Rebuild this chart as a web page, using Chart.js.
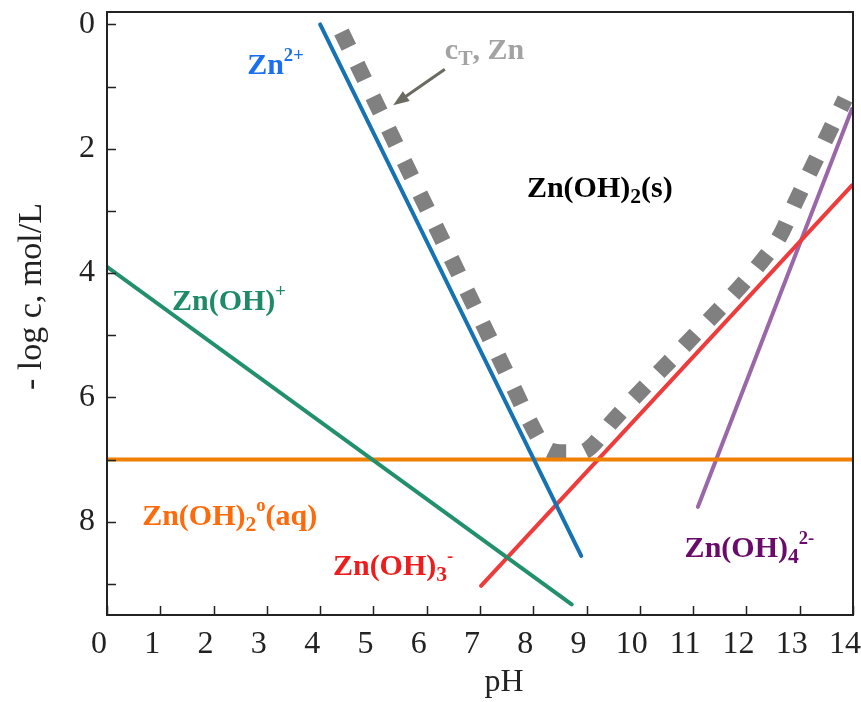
<!DOCTYPE html>
<html>
<head>
<meta charset="utf-8">
<script src="https://cdn.jsdelivr.net/npm/chart.js@4.4.1/dist/chart.umd.min.js"></script>
<style>
  html, body { margin: 0; background: #fff; }
</style>
</head>
<body>
<canvas id="diagram" width="861" height="702"></canvas>
<script>
// axis ticks
const pHTicks = [0, 1, 2, 3, 4, 5, 6, 7, 8, 9, 10, 11, 12, 13, 14];
const logCTicks = [0, 1, 2, 3, 4, 5, 6, 7, 8, 9];
const logCLabelled = [0, 2, 4, 6, 8];

// species lines (pH, -log c)
const znIonPH = [4.0, 8.9];
const znIonLogC = [0.0, 8.55];
const znOHPH = [0.0, 8.72];
const znOHLogC = [3.9, 9.33];
const znOH2aqPH = [0, 14];
const znOH2aqLogC = [7.0, 7.0];
const znOH3PH = [7.02, 13.98];
const znOH3LogC = [9.03, 2.59];
const znOH4PH = [11.09, 13.98];
const znOH4LogC = [7.76, 1.36];

// total dissolved zinc, c_T
const totalZnPH = [4.4, 7.65, 7.94, 8.2, 8.5, 8.9, 9.1, 9.47, 10.88, 12.25, 12.63, 12.91, 13.85];
const totalZnLogC = [0.12, 5.88, 6.4, 6.78, 6.88, 6.88, 6.78, 6.4, 5.13, 3.85, 3.4, 2.88, 1.2];

const serif = '"Liberation Serif", "Times New Roman", serif';

function pts(xs, ys) {
    return xs.map((x, i) => ({ x: x, y: ys[i] }));
}

function speciesLine(label, xs, ys, color) {
    return {
        label: label,
        data: pts(xs, ys),
        showLine: true,
        borderColor: color,
        backgroundColor: color,
        borderWidth: 4,
        pointRadius: 0,
        borderCapStyle: 'round',
        fill: false,
        order: 1
    };
}

// in-plot labels, anchored in data units (left edge, baseline)
const speciesLabels = [
    { x: 2.63, y: 0.80, color: '#1a6ff0', parts: [['Zn'], ['2+', 'sup']] },
    { x: 6.34, y: 0.55, color: '#a3a3a3', parts: [['c'], ['T', 'sub'], [', Zn']] },
    { x: 7.88, y: 2.78, color: '#000000', parts: [['Zn(OH)'], ['2', 'sub'], ['(s)']] },
    { x: 1.22, y: 4.60, color: '#1f8a68', parts: [['Zn(OH)'], ['+', 'sup']] },
    { x: 0.66, y: 8.05, color: '#ff6a0a', parts: [['Zn(OH)'], ['2', 'sub'], ['o', 'sup'], ['(aq)']] },
    { x: 4.24, y: 8.86, color: '#ee1c1c', parts: [['Zn(OH)'], ['3', 'sub'], ['-', 'sup']] },
    { x: 10.84, y: 8.57, color: '#6a0a6a', parts: [['Zn(OH)'], ['4', 'sub'], ['2-', 'sup']] }
];
const pointer = { from: [6.34, 0.72], to: [5.37, 1.3], color: '#6b6b62' };

function drawRich(ctx, parts, x, y, size, color) {
    ctx.fillStyle = color;
    ctx.textBaseline = 'alphabetic';
    ctx.textAlign = 'left';
    let cx = x;
    parts.forEach(([t, kind]) => {
        let fs = size, dy = 0;
        if (kind === 'sup') { fs = size * 0.62; dy = -size * 0.45; }
        if (kind === 'sub') { fs = size * 0.72; dy = size * 0.2; }
        ctx.font = 'bold ' + fs + 'px ' + serif;
        ctx.fillText(t, cx, y + dy);
        cx += ctx.measureText(t).width;
    });
}

const framePlugin = {
    id: 'frame',
    afterDatasetsDraw(chart) {
        const ctx = chart.ctx;
        const a = chart.chartArea;
        const xs = chart.scales.x, ys = chart.scales.y;
        ctx.save();
        ctx.strokeStyle = '#222';
        ctx.lineWidth = 1.5;
        ctx.beginPath();
        pHTicks.forEach(v => {
            const px = Math.round(xs.getPixelForValue(v)) + 0.5;
            ctx.moveTo(px, a.bottom);
            ctx.lineTo(px, a.bottom - 9);
        });
        logCTicks.forEach(v => {
            const py = Math.round(ys.getPixelForValue(v)) + 0.5;
            ctx.moveTo(a.left, py);
            ctx.lineTo(a.left + 9, py);
        });
        ctx.stroke();
        ctx.lineWidth = 2;
        ctx.strokeRect(a.left, a.top, a.right - a.left, a.bottom - a.top);

        // arrow to the c_T curve
        const x1 = xs.getPixelForValue(pointer.from[0]), y1 = ys.getPixelForValue(pointer.from[1]);
        const x2 = xs.getPixelForValue(pointer.to[0]), y2 = ys.getPixelForValue(pointer.to[1]);
        const ang = Math.atan2(y2 - y1, x2 - x1);
        ctx.strokeStyle = pointer.color;
        ctx.fillStyle = pointer.color;
        ctx.lineWidth = 3;
        ctx.beginPath();
        ctx.moveTo(x1, y1);
        ctx.lineTo(x2 - 10 * Math.cos(ang), y2 - 10 * Math.sin(ang));
        ctx.stroke();
        ctx.beginPath();
        ctx.moveTo(x2, y2);
        ctx.lineTo(x2 - 16 * Math.cos(ang) + 6 * Math.sin(ang), y2 - 16 * Math.sin(ang) - 6 * Math.cos(ang));
        ctx.lineTo(x2 - 16 * Math.cos(ang) - 6 * Math.sin(ang), y2 - 16 * Math.sin(ang) + 6 * Math.cos(ang));
        ctx.closePath();
        ctx.fill();

        speciesLabels.forEach(l => {
            drawRich(ctx, l.parts, xs.getPixelForValue(l.x), ys.getPixelForValue(l.y), 30, l.color);
        });
        ctx.restore();
    }
};

new Chart(document.getElementById('diagram'), {
    type: 'scatter',
    data: {
        datasets: [
            speciesLine('Zn2+', znIonPH, znIonLogC, '#1672b2'),
            speciesLine('Zn(OH)+', znOHPH, znOHLogC, '#22906c'),
            speciesLine('Zn(OH)2(aq)', znOH2aqPH, znOH2aqLogC, '#f08000'),
            speciesLine('Zn(OH)3-', znOH3PH, znOH3LogC, '#ee3c3c'),
            speciesLine('Zn(OH)4 2-', znOH4PH, znOH4LogC, '#9a68a8'),
            {
                label: 'cT, Zn',
                data: pts(totalZnPH, totalZnLogC),
                showLine: true,
                borderColor: '#808080',
                borderWidth: 16,
                borderDash: [17, 19],
                borderCapStyle: 'butt',
                cubicInterpolationMode: 'monotone',
                pointRadius: 0,
                fill: false,
                order: 5
            }
        ]
    },
    options: {
        responsive: false,
        animation: false,
        layout: { padding: { top: 12, right: 8, left: 0, bottom: 0 } },
        plugins: {
            legend: { display: false },
            tooltip: { enabled: false }
        },
        scales: {
            x: {
                type: 'linear',
                min: 0,
                max: 14,
                grid: { display: false, drawTicks: false },
                border: { display: false },
                afterBuildTicks: (s) => { s.ticks = pHTicks.map(v => ({ value: v })); },
                afterFit: (s) => { s.height = 87; s.paddingLeft = 0; s.paddingRight = 0; },
                ticks: {
                    color: '#222',
                    padding: 10,
                    labelOffset: -8,
                    maxRotation: 0,
                    autoSkip: false,
                    font: { family: serif, size: 32 }
                },
                title: {
                    display: true,
                    text: '\u2003\u2002pH',
                    color: '#222',
                    padding: { top: 0, bottom: 0 },
                    font: { family: serif, size: 32 }
                }
            },
            y: {
                type: 'linear',
                reverse: true,
                min: -0.2,
                max: 9.5,
                grid: { display: false, drawTicks: false },
                border: { display: false },
                afterBuildTicks: (s) => { s.ticks = logCTicks.map(v => ({ value: v })); },
                afterFit: (s) => { s.width = 107; s.paddingTop = 0; s.paddingBottom = 0; },
                ticks: {
                    color: '#222',
                    padding: 12,
                    autoSkip: false,
                    font: { family: serif, size: 32 },
                    callback: (v) => logCLabelled.includes(v) ? String(v) : ''
                },
                title: {
                    display: true,
                    text: '\u2003- log c, mol/L',
                    color: '#222',
                    padding: { top: 12, bottom: 0 },
                    font: { family: serif, size: 34 }
                }
            }
        }
    },
    plugins: [framePlugin]
});
</script>
</body>
</html>
